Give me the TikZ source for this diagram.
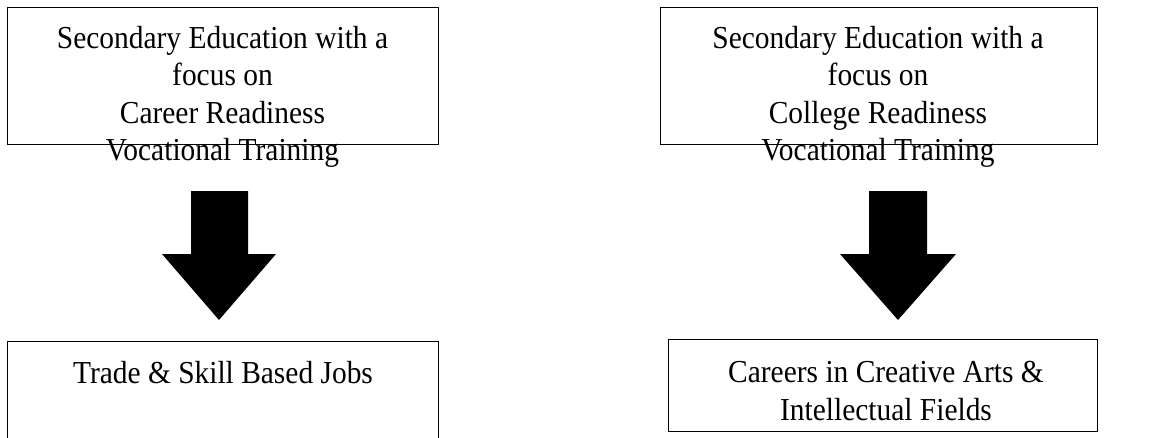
\documentclass[tikz,border=0pt]{standalone}
\usepackage{fontspec}
\setmainfont[FakeStretch=0.92]{Liberation Serif}
\begin{document}
\begin{tikzpicture}[x=0.75pt,y=-0.75pt,
  boxstyle/.style={draw=black,line width=1pt,inner sep=0pt,anchor=north west},
  labelstyle/.style={align=center,inner sep=0pt,font=\fontsize{24}{28.1}\selectfont},
  blockarrow/.style={fill=black,draw=none}]
\useasboundingbox (0,0) rectangle (1174,437);
\clip (0,0) rectangle (1174,437);
% top boxes
\node[boxstyle,minimum width=431*0.75pt,minimum height=137*0.75pt] (tl) at (7,7) {};
\node[boxstyle,minimum width=437*0.75pt,minimum height=137*0.75pt] (tr) at (660,7) {};
% bottom boxes
\node[boxstyle,minimum width=431*0.75pt,minimum height=130*0.75pt] (bl) at (7,341) {};
\node[boxstyle,minimum width=429*0.75pt,minimum height=92*0.75pt] (br) at (668,339) {};
% texts
\node[labelstyle,anchor=north] (tlt) at (222.5,26) {Secondary Education with a\\focus on\\Career Readiness\\Vocational Training};
\node[labelstyle,anchor=north] (trt) at (878,26) {Secondary Education with a\\focus on\\College Readiness\\Vocational Training};
\node[labelstyle,anchor=north] (blt) at (223,361) {Trade \& Skill Based Jobs};
\node[labelstyle,anchor=north] (brt) at (886,361) {Careers in Creative Arts \&\\Intellectual Fields};
% block arrows
\fill[blockarrow] (191,191) -- (248,191) -- (248,254) -- (276,254) -- (219,320) -- (162,254) -- (191,254) -- cycle;
\fill[blockarrow] (869,191) -- (927,191) -- (927,254) -- (956,254) -- (898,320) -- (840,254) -- (869,254) -- cycle;
\end{tikzpicture}
\end{document}
